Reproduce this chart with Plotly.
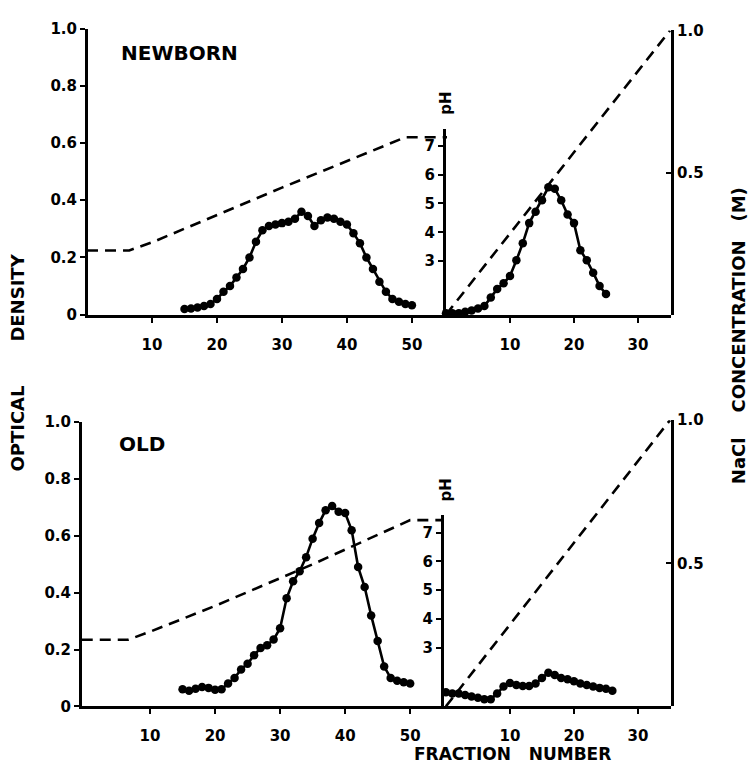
import plotly.graph_objects as go

# ---------------- data ----------------
# NEWBORN, first column (fractions 15-50), optical density
nb_frac1 = list(range(15, 51))
nb_od1 = [0.02, 0.022, 0.025, 0.03, 0.037, 0.055, 0.08, 0.10, 0.13, 0.16, 0.20, 0.255,
          0.295, 0.31, 0.315, 0.32, 0.325, 0.335, 0.36, 0.345, 0.31, 0.33, 0.34, 0.335,
          0.325, 0.315, 0.285, 0.25, 0.20, 0.16, 0.115, 0.08, 0.055, 0.045, 0.037, 0.033]
# NEWBORN pH gradient
nb_ph_frac = [0, 6.5, 10, 30, 49, 55.4]
nb_ph = [3.37, 3.37, 3.65, 5.55, 7.3, 7.3]
# NEWBORN, second column (fractions 0-25)
nb_frac2 = list(range(0, 26))
nb_od2 = [0.005, 0.005, 0.005, 0.01, 0.015, 0.022, 0.03, 0.06, 0.09, 0.11, 0.135, 0.19,
          0.25, 0.32, 0.36, 0.40, 0.445, 0.44, 0.40, 0.35, 0.32, 0.225, 0.19, 0.147, 0.10, 0.072]
# NaCl gradient
nacl_frac = [0, 35]
nacl_conc = [0.0, 1.0]

# OLD, first column
old_frac1 = list(range(15, 51))
old_od1 = [0.06, 0.055, 0.062, 0.068, 0.065, 0.058, 0.06, 0.08, 0.10, 0.13, 0.15, 0.18,
           0.205, 0.215, 0.235, 0.275, 0.38, 0.44, 0.475, 0.525, 0.59, 0.645, 0.69, 0.705,
           0.685, 0.68, 0.62, 0.49, 0.42, 0.32, 0.23, 0.14, 0.10, 0.09, 0.085, 0.08]
old_ph_frac = [-0.5, 6.6, 10, 20, 35, 50, 55.3]
old_ph = [3.27, 3.27, 3.55, 4.45, 5.9, 7.44, 7.44]
# OLD, second column
old_frac2 = list(range(0, 27))
old_od2 = [0.05, 0.045, 0.045, 0.04, 0.035, 0.03, 0.025, 0.025, 0.045, 0.07, 0.082, 0.075,
           0.072, 0.072, 0.08, 0.10, 0.118, 0.11, 0.10, 0.095, 0.088, 0.08, 0.075, 0.07,
           0.065, 0.062, 0.055]

od_ticks = [0, 0.2, 0.4, 0.6, 0.8, 1.0]
od_labels = ["0", "0.2", "0.4", "0.6", "0.8", "1.0"]
ph_ticks = [3, 4, 5, 6, 7]
nacl_ticks = [0.5, 1.0]
nacl_labels = ["0.5", "1.0"]
frac_ticks1 = [10, 20, 30, 40, 50]
frac_ticks2 = [10, 20, 30]

# ---------------- geometry helpers ----------------
W, H = 750, 772
def px(x):
    return x / W
def py(y):
    return 1 - y / H

FONT = "DejaVu Sans"
tickfont = dict(family=FONT, size=15, color="black", weight="bold")
dash = "11px,7px"

fig = go.Figure()

def curve(x, y, xa, ya):
    fig.add_trace(go.Scatter(x=x, y=y, xaxis=xa, yaxis=ya, mode="lines+markers",
                             line=dict(color="black", width=2.6),
                             marker=dict(color="black", size=8.5), showlegend=False,
                             cliponaxis=False))

def dashed(x, y, xa, ya):
    fig.add_trace(go.Scatter(x=x, y=y, xaxis=xa, yaxis=ya, mode="lines",
                             line=dict(color="black", width=2.6, dash=dash),
                             showlegend=False))

# top panel
curve(nb_frac1, nb_od1, "x", "y")
dashed(nb_ph_frac, nb_ph, "x", "y2")
curve(nb_frac2, nb_od2, "x2", "y")
dashed(nacl_frac, nacl_conc, "x2", "y3")
# bottom panel
curve(old_frac1, old_od1, "x3", "y4")
dashed(old_ph_frac, old_ph, "x3", "y5")
curve(old_frac2, old_od2, "x4", "y4")
dashed(nacl_frac, nacl_conc, "x4", "y6")

common = dict(showgrid=False, zeroline=False, showline=True, linecolor="black",
              linewidth=3, ticks="outside", ticklen=5, tickwidth=2, tickcolor="black",
              tickfont=tickfont)
xcommon = {**common, "ticklabelstandoff": 9}

layout = dict(
    width=W, height=H, margin=dict(l=0, r=0, t=0, b=0),
    paper_bgcolor="white", plot_bgcolor="rgba(0,0,0,0)",
    # top panel axes
    xaxis=dict(domain=[px(88), px(447)], range=[0.15, 55.4], anchor="y",
               tickvals=frac_ticks1, **xcommon),
    xaxis2=dict(domain=[px(446), px(671)], range=[0, 35.16], anchor="y",
                tickvals=frac_ticks2, **xcommon),
    yaxis=dict(domain=[py(313), py(20)], range=[0, 1.0], anchor="x",
               tickvals=od_ticks, ticktext=od_labels, **common),
    yaxis2=dict(domain=[py(313), py(123)], range=[1.14, 7.58], anchor="x2", side="left",
                tickvals=ph_ticks, **common),
    yaxis3=dict(domain=[py(313), py(22)], range=[0, 1.0], anchor="x2", side="right",
                tickvals=nacl_ticks, ticktext=nacl_labels,
                **{**common, "ticks": "inside"}),
    # bottom panel axes
    xaxis3=dict(domain=[px(82), px(444)], range=[-0.46, 55.2], anchor="y4",
                tickvals=frac_ticks1, **xcommon),
    xaxis4=dict(domain=[px(444), px(671)], range=[-0.3, 35.16], anchor="y4",
                tickvals=frac_ticks2, **xcommon),
    yaxis4=dict(domain=[py(714), py(423)], range=[0, 1.0], anchor="x3",
                tickvals=od_ticks, ticktext=od_labels, **common),
    yaxis5=dict(domain=[py(714), py(518)], range=[0.95, 7.62], anchor="x4", side="left",
                tickvals=ph_ticks, **common),
    yaxis6=dict(domain=[py(714), py(421)], range=[0, 1.0], anchor="x4", side="right",
                tickvals=nacl_ticks, ticktext=nacl_labels,
                **{**common, "ticks": "inside"}),
)
fig.update_layout(**layout)

def label(text, x, y, size=17, angle=0, pad=1):
    fig.add_annotation(text=text, x=px(x), y=py(y), xref="paper", yref="paper",
                       showarrow=False, textangle=angle, xanchor="center", yanchor="middle",
                       borderpad=pad,
                       font=dict(family=FONT, size=size, color="black", weight="bold"))

sp = "\u00a0"
label("NEWBORN", 179, 45, size=20)
label("OLD", 142, 445, size=20)
label("pH", 446, 97, size=15, angle=-90)
label("pH", 446, 493, size=15, angle=-90)
label("OPTICAL" + sp * 7 + "DENSITY", 18, 362, size=18, angle=-90)
label("NaCl" + sp * 4 + "CONCENTRATION" + sp * 3 + "(M)", 738, 335, size=18, angle=-90)
label("FRACTION" + sp * 3 + "NUMBER", 512, 763, size=17, pad=0)

fig.write_html("out.html")
